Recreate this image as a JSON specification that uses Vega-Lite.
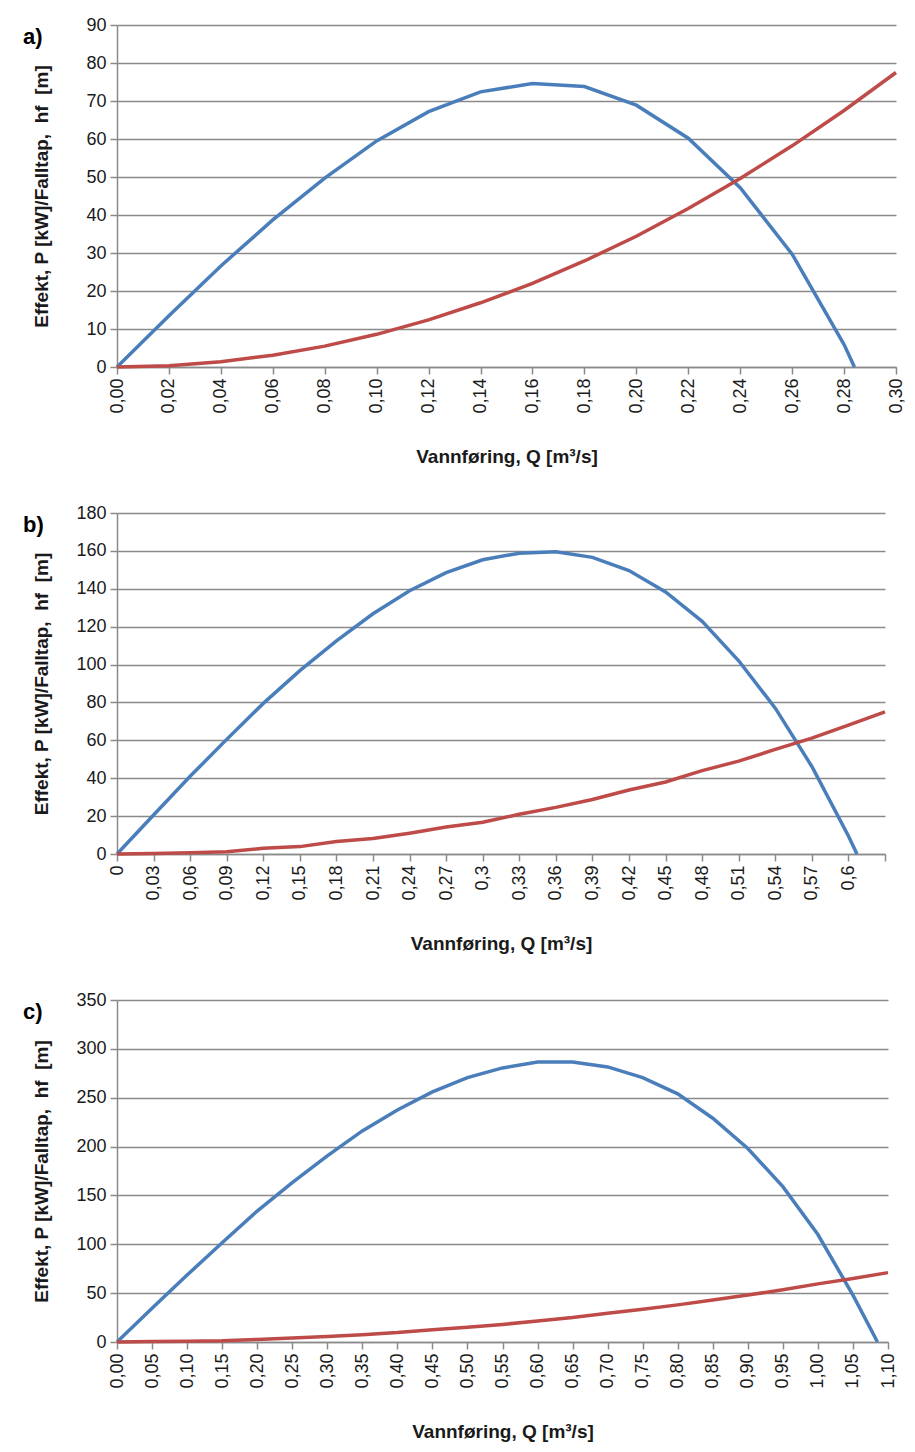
{
  "$schema": "https://vega.github.io/schema/vega-lite/v6.json",
  "background": "white",
  "padding": {"left": 23, "top": 16, "right": 16, "bottom": 8},
  "bounds": "flush",
  "spacing": 146,
  "config": {
    "font": "Liberation Sans",
    "view": {"stroke": null},
    "axis": {
      "labelFont": "Liberation Sans",
      "labelFontSize": 18,
      "labelColor": "#1a1a1a",
      "titleFont": "Liberation Sans",
      "titleFontSize": 19,
      "titleFontWeight": "bold",
      "titleColor": "#1a1a1a",
      "domainColor": "#8a8a8a",
      "domainWidth": 1.5,
      "tickColor": "#8a8a8a",
      "tickWidth": 1.5,
      "tickSize": 7,
      "gridColor": "#8a8a8a",
      "gridWidth": 1.3,
      "gridOpacity": 1,
      "labelPadding": 4,
      "labelFlush": false,
      "labelOverlap": false
    },
    "title": {"font": "Liberation Sans", "fontSize": 22, "fontWeight": "bold", "color": "#000000"},
    "line": {"strokeWidth": 3.5}
  },
  "datasets": {
    "a": [
      {"Q": 0, "value": 0, "series": "Effekt"},
      {"Q": 0.02, "value": 13.5, "series": "Effekt"},
      {"Q": 0.04, "value": 26.6, "series": "Effekt"},
      {"Q": 0.06, "value": 38.7, "series": "Effekt"},
      {"Q": 0.08, "value": 49.7, "series": "Effekt"},
      {"Q": 0.10, "value": 59.5, "series": "Effekt"},
      {"Q": 0.12, "value": 67.2, "series": "Effekt"},
      {"Q": 0.14, "value": 72.4, "series": "Effekt"},
      {"Q": 0.16, "value": 74.6, "series": "Effekt"},
      {"Q": 0.18, "value": 73.8, "series": "Effekt"},
      {"Q": 0.20, "value": 68.9, "series": "Effekt"},
      {"Q": 0.22, "value": 60.2, "series": "Effekt"},
      {"Q": 0.24, "value": 47.2, "series": "Effekt"},
      {"Q": 0.26, "value": 29.7, "series": "Effekt"},
      {"Q": 0.28, "value": 5.9, "series": "Effekt"},
      {"Q": 0.284, "value": 0, "series": "Effekt"},
      {"Q": 0, "value": 0, "series": "Falltap"},
      {"Q": 0.02, "value": 0.34, "series": "Falltap"},
      {"Q": 0.04, "value": 1.4, "series": "Falltap"},
      {"Q": 0.06, "value": 3.1, "series": "Falltap"},
      {"Q": 0.08, "value": 5.5, "series": "Falltap"},
      {"Q": 0.10, "value": 8.6, "series": "Falltap"},
      {"Q": 0.12, "value": 12.4, "series": "Falltap"},
      {"Q": 0.14, "value": 16.9, "series": "Falltap"},
      {"Q": 0.16, "value": 22.0, "series": "Falltap"},
      {"Q": 0.18, "value": 27.9, "series": "Falltap"},
      {"Q": 0.20, "value": 34.4, "series": "Falltap"},
      {"Q": 0.22, "value": 41.7, "series": "Falltap"},
      {"Q": 0.24, "value": 49.6, "series": "Falltap"},
      {"Q": 0.26, "value": 58.2, "series": "Falltap"},
      {"Q": 0.28, "value": 67.5, "series": "Falltap"},
      {"Q": 0.30, "value": 77.5, "series": "Falltap"}
    ],
    "b": [
      {"Q": 0, "value": 0, "series": "Effekt"},
      {"Q": 0.03, "value": 20.6, "series": "Effekt"},
      {"Q": 0.06, "value": 41, "series": "Effekt"},
      {"Q": 0.09, "value": 60.5, "series": "Effekt"},
      {"Q": 0.12, "value": 79.5, "series": "Effekt"},
      {"Q": 0.15, "value": 96.8, "series": "Effekt"},
      {"Q": 0.18, "value": 112.5, "series": "Effekt"},
      {"Q": 0.21, "value": 126.8, "series": "Effekt"},
      {"Q": 0.24, "value": 139, "series": "Effekt"},
      {"Q": 0.27, "value": 148.5, "series": "Effekt"},
      {"Q": 0.30, "value": 155.3, "series": "Effekt"},
      {"Q": 0.33, "value": 158.8, "series": "Effekt"},
      {"Q": 0.36, "value": 159.6, "series": "Effekt"},
      {"Q": 0.39, "value": 156.6, "series": "Effekt"},
      {"Q": 0.42, "value": 149.6, "series": "Effekt"},
      {"Q": 0.45, "value": 138.3, "series": "Effekt"},
      {"Q": 0.48, "value": 122.8, "series": "Effekt"},
      {"Q": 0.51, "value": 102, "series": "Effekt"},
      {"Q": 0.54, "value": 77, "series": "Effekt"},
      {"Q": 0.57, "value": 46.2, "series": "Effekt"},
      {"Q": 0.60, "value": 9.5, "series": "Effekt"},
      {"Q": 0.607, "value": 0, "series": "Effekt"},
      {"Q": 0, "value": 0, "series": "Falltap"},
      {"Q": 0.03, "value": 0.2, "series": "Falltap"},
      {"Q": 0.06, "value": 0.7, "series": "Falltap"},
      {"Q": 0.09, "value": 1.2, "series": "Falltap"},
      {"Q": 0.12, "value": 3.0, "series": "Falltap"},
      {"Q": 0.15, "value": 3.9, "series": "Falltap"},
      {"Q": 0.18, "value": 6.6, "series": "Falltap"},
      {"Q": 0.21, "value": 8.2, "series": "Falltap"},
      {"Q": 0.24, "value": 11.0, "series": "Falltap"},
      {"Q": 0.27, "value": 14.2, "series": "Falltap"},
      {"Q": 0.30, "value": 16.8, "series": "Falltap"},
      {"Q": 0.33, "value": 21.0, "series": "Falltap"},
      {"Q": 0.36, "value": 24.6, "series": "Falltap"},
      {"Q": 0.39, "value": 28.8, "series": "Falltap"},
      {"Q": 0.42, "value": 33.8, "series": "Falltap"},
      {"Q": 0.45, "value": 38.0, "series": "Falltap"},
      {"Q": 0.48, "value": 44.0, "series": "Falltap"},
      {"Q": 0.51, "value": 49.0, "series": "Falltap"},
      {"Q": 0.54, "value": 55.2, "series": "Falltap"},
      {"Q": 0.57, "value": 61.2, "series": "Falltap"},
      {"Q": 0.60, "value": 68.0, "series": "Falltap"},
      {"Q": 0.63, "value": 75.0, "series": "Falltap"}
    ],
    "c": [
      {"Q": 0, "value": 0, "series": "Effekt"},
      {"Q": 0.05, "value": 34.5, "series": "Effekt"},
      {"Q": 0.10, "value": 68.5, "series": "Effekt"},
      {"Q": 0.15, "value": 101.5, "series": "Effekt"},
      {"Q": 0.20, "value": 134, "series": "Effekt"},
      {"Q": 0.25, "value": 163, "series": "Effekt"},
      {"Q": 0.30, "value": 190.5, "series": "Effekt"},
      {"Q": 0.35, "value": 216, "series": "Effekt"},
      {"Q": 0.40, "value": 237.5, "series": "Effekt"},
      {"Q": 0.45, "value": 256, "series": "Effekt"},
      {"Q": 0.50, "value": 270.5, "series": "Effekt"},
      {"Q": 0.55, "value": 280.5, "series": "Effekt"},
      {"Q": 0.60, "value": 286.5, "series": "Effekt"},
      {"Q": 0.65, "value": 286.5, "series": "Effekt"},
      {"Q": 0.70, "value": 281.5, "series": "Effekt"},
      {"Q": 0.75, "value": 270.5, "series": "Effekt"},
      {"Q": 0.80, "value": 254, "series": "Effekt"},
      {"Q": 0.85, "value": 229, "series": "Effekt"},
      {"Q": 0.90, "value": 198, "series": "Effekt"},
      {"Q": 0.95, "value": 159, "series": "Effekt"},
      {"Q": 1.00, "value": 110, "series": "Effekt"},
      {"Q": 1.05, "value": 48, "series": "Effekt"},
      {"Q": 1.085, "value": 0, "series": "Effekt"},
      {"Q": 0, "value": 0, "series": "Falltap"},
      {"Q": 0.05, "value": 0.5, "series": "Falltap"},
      {"Q": 0.10, "value": 0.8, "series": "Falltap"},
      {"Q": 0.15, "value": 1.3, "series": "Falltap"},
      {"Q": 0.20, "value": 2.6, "series": "Falltap"},
      {"Q": 0.25, "value": 4.0, "series": "Falltap"},
      {"Q": 0.30, "value": 5.6, "series": "Falltap"},
      {"Q": 0.35, "value": 7.5, "series": "Falltap"},
      {"Q": 0.40, "value": 9.6, "series": "Falltap"},
      {"Q": 0.45, "value": 12.5, "series": "Falltap"},
      {"Q": 0.50, "value": 15.0, "series": "Falltap"},
      {"Q": 0.55, "value": 18.0, "series": "Falltap"},
      {"Q": 0.60, "value": 21.5, "series": "Falltap"},
      {"Q": 0.65, "value": 25.0, "series": "Falltap"},
      {"Q": 0.70, "value": 29.5, "series": "Falltap"},
      {"Q": 0.75, "value": 33.5, "series": "Falltap"},
      {"Q": 0.80, "value": 38.0, "series": "Falltap"},
      {"Q": 0.85, "value": 43.0, "series": "Falltap"},
      {"Q": 0.90, "value": 48.0, "series": "Falltap"},
      {"Q": 0.95, "value": 53.5, "series": "Falltap"},
      {"Q": 1.00, "value": 59.5, "series": "Falltap"},
      {"Q": 1.05, "value": 65.0, "series": "Falltap"},
      {"Q": 1.10, "value": 71.0, "series": "Falltap"}
    ]
  },
  "vconcat": [
    {
      "width": 779,
      "height": 342,
      "title": {"text": "a)", "anchor": "start", "frame": "group", "orient": "top", "offset": 0, "dx": -94, "dy": 43, "baseline": "middle"},
      "data": {"name": "a"},
      "mark": {"type": "line", "strokeWidth": 3.5},
      "encoding": {
        "x": {
          "field": "Q", "type": "quantitative",
          "scale": {"domain": [0, 0.3], "nice": false, "zero": false},
          "axis": {
            "values": [0, 0.02, 0.04, 0.06, 0.08, 0.1, 0.12, 0.14, 0.16, 0.18, 0.2, 0.22, 0.24, 0.26, 0.28, 0.3],
            "format": ".2f",
            "labelExpr": "replace(datum.label, '.', ',')",
            "labelAngle": 270,
            "grid": false,
            "title": "Vannføring, Q [m³/s]",
            "titleY": 89,
            "titleBaseline": "middle"
          }
        },
        "y": {
          "field": "value", "type": "quantitative",
          "scale": {"domain": [0, 90], "nice": false},
          "axis": {
            "values": [0, 10, 20, 30, 40, 50, 60, 70, 80, 90],
            "grid": true,
            "title": "Effekt, P [kW]/Falltap,\u00a0\u00a0hf\u00a0\u00a0[m]",
            "titleX": -76,
            "titleBaseline": "middle"
          }
        },
        "color": {
          "field": "series", "type": "nominal",
          "scale": {"domain": ["Effekt", "Falltap"], "range": ["#4A7EBB", "#BE4B48"]},
          "legend": null
        }
      }
    },
    {
      "width": 768,
      "height": 341,
      "title": {"text": "b)", "anchor": "start", "frame": "group", "orient": "top", "offset": 0, "dx": -94, "dy": 43, "baseline": "middle"},
      "data": {"name": "b"},
      "mark": {"type": "line", "strokeWidth": 3.5},
      "encoding": {
        "x": {
          "field": "Q", "type": "quantitative",
          "scale": {"domain": [0, 0.63], "nice": false, "zero": false},
          "axis": {
            "values": [0, 0.03, 0.06, 0.09, 0.12, 0.15, 0.18, 0.21, 0.24, 0.27, 0.3, 0.33, 0.36, 0.39, 0.42, 0.45, 0.48, 0.51, 0.54, 0.57, 0.6, 0.63],
            "format": "~g",
            "labelExpr": "datum.value > 0.61 ? '' : replace(datum.label, '.', ',')",
            "labelAngle": 270,
            "grid": false,
            "title": "Vannføring, Q [m³/s]",
            "titleY": 89,
            "titleBaseline": "middle"
          }
        },
        "y": {
          "field": "value", "type": "quantitative",
          "scale": {"domain": [0, 180], "nice": false},
          "axis": {
            "values": [0, 20, 40, 60, 80, 100, 120, 140, 160, 180],
            "grid": true,
            "title": "Effekt, P [kW]/Falltap,\u00a0\u00a0hf\u00a0\u00a0[m]",
            "titleX": -76,
            "titleBaseline": "middle"
          }
        },
        "color": {
          "field": "series", "type": "nominal",
          "scale": {"domain": ["Effekt", "Falltap"], "range": ["#4A7EBB", "#BE4B48"]},
          "legend": null
        }
      }
    },
    {
      "width": 771,
      "height": 342,
      "title": {"text": "c)", "anchor": "start", "frame": "group", "orient": "top", "offset": 0, "dx": -94, "dy": 43, "baseline": "middle"},
      "data": {"name": "c"},
      "mark": {"type": "line", "strokeWidth": 3.5},
      "encoding": {
        "x": {
          "field": "Q", "type": "quantitative",
          "scale": {"domain": [0, 1.1], "nice": false, "zero": false},
          "axis": {
            "values": [0, 0.05, 0.1, 0.15, 0.2, 0.25, 0.3, 0.35, 0.4, 0.45, 0.5, 0.55, 0.6, 0.65, 0.7, 0.75, 0.8, 0.85, 0.9, 0.95, 1.0, 1.05, 1.1],
            "format": ".2f",
            "labelExpr": "replace(datum.label, '.', ',')",
            "labelAngle": 270,
            "grid": false,
            "title": "Vannføring, Q [m³/s]",
            "titleY": 89,
            "titleBaseline": "middle"
          }
        },
        "y": {
          "field": "value", "type": "quantitative",
          "scale": {"domain": [0, 350], "nice": false},
          "axis": {
            "values": [0, 50, 100, 150, 200, 250, 300, 350],
            "grid": true,
            "title": "Effekt, P [kW]/Falltap,\u00a0\u00a0hf\u00a0\u00a0[m]",
            "titleX": -76,
            "titleBaseline": "middle"
          }
        },
        "color": {
          "field": "series", "type": "nominal",
          "scale": {"domain": ["Effekt", "Falltap"], "range": ["#4A7EBB", "#BE4B48"]},
          "legend": null
        }
      }
    }
  ]
}
